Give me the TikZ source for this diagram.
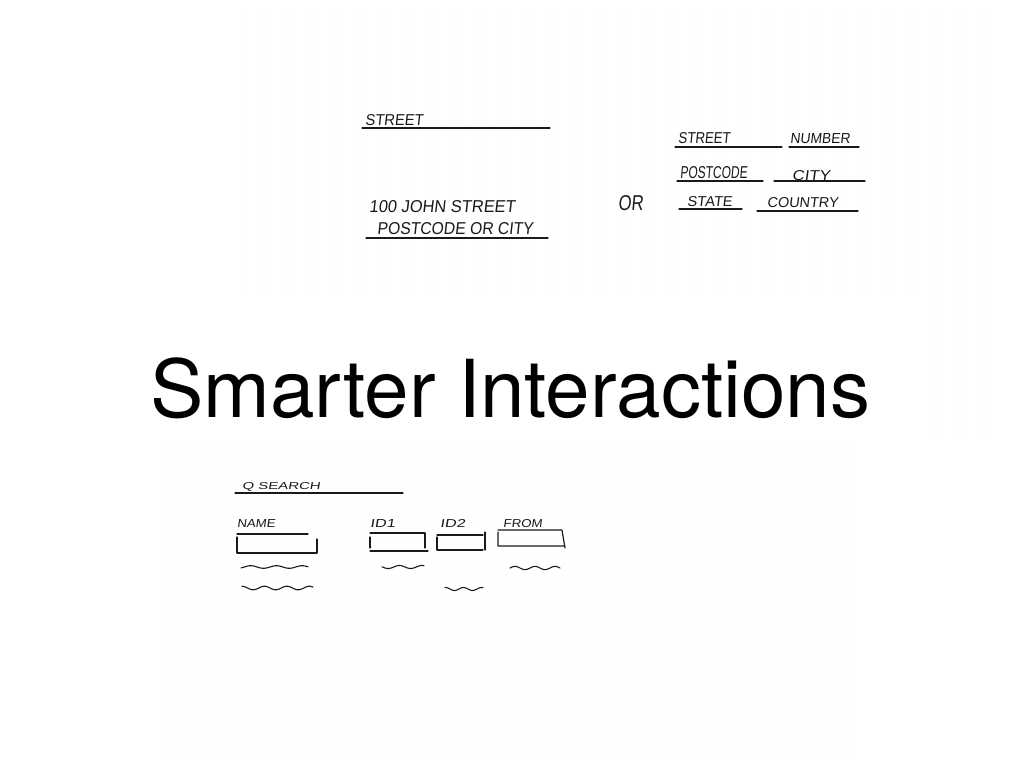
\documentclass[tikz,border=0pt]{standalone}
\usepackage{fontspec}
\usepackage{graphicx}
\setmainfont{TeX Gyre Heros}
\newfontfamily\handfont[FakeSlant=0.12]{Liberation Sans}
% hand-lettered label: width, cap height, text
\newcommand\hw[3]{\resizebox{#1pt}{#2pt}{\handfont #3}}
\definecolor{ink}{HTML}{1A1A1A}
\definecolor{dotc}{HTML}{F4F4F4}
\begin{document}
\begin{tikzpicture}[x=1pt,y=-1pt,
  rule/.style={line width=1.3pt, line cap=round, draw=ink},
  hand/.style={inner sep=0pt, anchor=base west, text=ink},
  wave/.style={line width=1.1pt, draw=ink, line cap=round, line join=round},
  fieldbox/.style={line width=1.2pt, draw=ink, line cap=round}]
\useasboundingbox (0,0) rectangle (1024,768);
\fill[white] (0,0) rectangle (1024,768);

% faint dot grid of the sketch paper
\foreach \x in {246,258,...,990}
  \foreach \y in {12,24,...,288}
    \fill[dotc] (\x,\y) circle (0.7);
\foreach \x in {930,942,...,990}
  \foreach \y in {300,312,...,432}
    \fill[dotc] (\x,\y) circle (0.7);
\foreach \x in {168,180,...,860}
  \foreach \y in {444,456,...,760}
    \fill[dotc] (\x,\y) circle (0.7);

% single-line address form
\node[hand] (streetA) at (365,125) {\hw{58}{11}{STREET}};
\draw[rule] (362,128) -- (550,128);
\node[hand] (john) at (369,212) {\hw{146}{12}{100 JOHN STREET}};
\node[hand] (postOrCity) at (377,234) {\hw{156}{12}{POSTCODE OR CITY}};
\draw[rule] (366,238) -- (548,238);

\node[inner sep=0pt, anchor=base west, text=ink] (orWord) at (618,210)
  {\resizebox{25pt}{15pt}{\handfont OR}};

% multi-field address form
\node[hand] (streetB) at (678,143) {\hw{52}{11}{STREET}};
\draw[rule] (675,147) -- (782,147);
\node[hand] (number) at (790,143) {\hw{60}{10}{NUMBER}};
\draw[rule] (789,147) -- (859,147);
\node[hand] (postcode) at (680,178) {\hw{67}{12}{POSTCODE}};
\draw[rule] (677,181) -- (763,181);
\node[hand] (city) at (792,180) {\hw{38}{10}{CITY}};
\draw[rule] (774,181) -- (865,181);
\node[hand] (state) at (687,206) {\hw{45}{10}{STATE}};
\draw[rule] (679,209) -- (742,209);
\node[hand] (country) at (767,207) {\hw{71}{10}{COUNTRY}};
\draw[rule] (757,211) -- (858,211);

% title
\node[inner sep=0pt, anchor=base west] (title) at (150,417)
  {\fontsize{80}{80}\selectfont Smarter Interactions};

% search form
\node[hand] (search) at (242,489) {\hw{78}{7}{Q SEARCH}};
\draw[rule] (235,493) -- (403,493);

\node[hand] (name) at (237,527) {\hw{38}{8}{NAME}};
\node[hand] (idOne) at (370,527) {\hw{25}{8}{ID1}};
\node[hand] (idTwo) at (440,527) {\hw{25}{8}{ID2}};
\node[hand] (from) at (503,527) {\hw{39}{8}{FROM}};

% sketched input boxes
\draw[fieldbox] (237,534) -- (308,534) (237,537) -- (237,553)
  (237,553) -- (317,553) (317,539) -- (317,553);
\draw[fieldbox] (370,533) -- (425,533) (370,537) -- (370,548)
  (370,551) -- (428,551) (425,533) -- (425,548);
\draw[fieldbox] (437,535) -- (483,535) (437,537) -- (437,550)
  (437,550) -- (483,550) (485,532) -- (485,550);
\draw[fieldbox] (498,530) -- (562,530) (498,532) -- (498,546)
  (498,546) -- (565,546) (562,530) -- (565,548);

% scribbled result values
\draw[wave] plot[domain=241:308, samples=50] (\x, {567+1.3*sin(14*\x)});
\draw[wave] plot[domain=242:313, samples=50] (\x, {588+1.8*sin(16*\x)});
\draw[wave] plot[domain=382:424, samples=40] (\x, {567+1.5*sin(16*\x)});
\draw[wave] plot[domain=445:483, samples=40] (\x, {589+1.5*sin(20*\x)});
\draw[wave] plot[domain=510:560, samples=40] (\x, {568+1.6*sin(18*\x)});
\end{tikzpicture}
\end{document}
